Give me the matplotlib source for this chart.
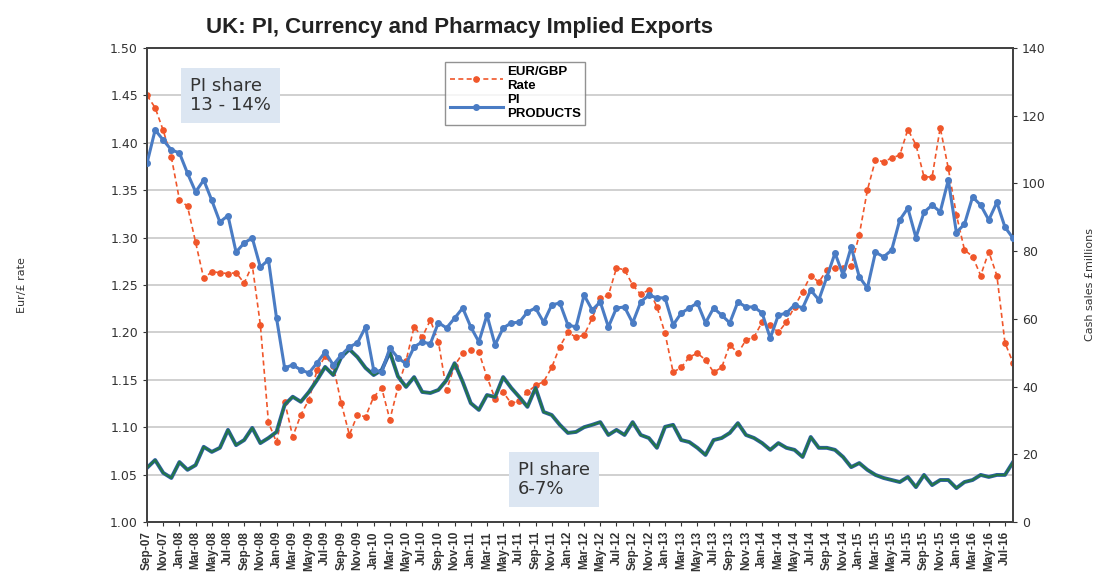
import pandas as pd
import matplotlib.pyplot as plt
import numpy as np

# months Sep-07 .. Aug-16
months = pd.date_range('2007-09-01', '2016-08-01', freq='MS')
month_labels = [d.strftime('%b-%y') for d in months]

# EUR/GBP rate (left axis)
eur_gbp = [1.450, 1.437, 1.413, 1.385, 1.340, 1.333, 1.295, 1.257, 1.264, 1.263,
           1.262, 1.263, 1.252, 1.271, 1.208, 1.105, 1.084, 1.127, 1.090, 1.113,
           1.129, 1.160, 1.175, 1.165, 1.125, 1.092, 1.113, 1.111, 1.132, 1.141,
           1.108, 1.142, 1.170, 1.206, 1.195, 1.213, 1.190, 1.139, 1.165, 1.178,
           1.181, 1.179, 1.153, 1.130, 1.137, 1.125, 1.128, 1.137, 1.144, 1.148,
           1.163, 1.185, 1.200, 1.195, 1.197, 1.215, 1.236, 1.239, 1.268, 1.266,
           1.250, 1.240, 1.245, 1.227, 1.199, 1.158, 1.163, 1.174, 1.178, 1.171,
           1.158, 1.163, 1.187, 1.178, 1.192, 1.195, 1.211, 1.208, 1.200, 1.211,
           1.227, 1.243, 1.260, 1.253, 1.266, 1.268, 1.268, 1.270, 1.303, 1.350,
           1.382, 1.380, 1.384, 1.387, 1.414, 1.398, 1.364, 1.364, 1.416, 1.373,
           1.324, 1.287, 1.280, 1.260, 1.285, 1.260, 1.189, 1.168]

# PI products, cash sales £m (right axis)
pi_products = [106.0, 115.8, 112.8, 109.9, 109.0, 103.0, 97.5, 101.0, 95.0, 88.6,
               90.5, 79.7, 82.4, 83.9, 75.3, 77.4, 60.2, 45.5, 46.4, 44.9,
               44.0, 47.0, 50.2, 46.4, 49.3, 51.7, 52.9, 57.6, 44.9, 44.3,
               51.4, 48.5, 46.7, 51.7, 53.2, 52.6, 58.9, 57.3, 60.2, 63.2,
               57.6, 53.2, 61.1, 52.3, 57.3, 58.8, 59.0, 62.0, 63.2, 59.0,
               64.1, 64.7, 58.2, 57.6, 67.0, 62.6, 65.0, 57.6, 63.2, 63.5,
               58.8, 65.0, 67.0, 66.2, 66.2, 58.2, 61.7, 63.2, 64.7, 58.8,
               63.2, 61.1, 58.8, 65.0, 63.5, 63.5, 61.7, 54.3, 61.1, 61.7,
               64.1, 63.2, 68.5, 65.6, 72.4, 79.4, 73.0, 81.2, 72.4, 69.1,
               79.7, 78.3, 80.3, 89.2, 92.7, 84.0, 91.5, 93.6, 91.6, 101.0,
               85.5, 88.0, 96.0, 93.6, 89.2, 94.4, 87.1, 83.8]

# pharmacy implied exports £m (right axis, no legend entry)
pharmacy = [16.0, 18.3, 14.5, 13.0, 17.7, 15.4, 16.8, 22.2, 20.7, 21.9,
            27.2, 22.7, 24.2, 27.8, 23.3, 24.8, 26.6, 34.6, 37.0, 35.5,
            38.4, 41.9, 45.8, 43.4, 48.7, 51.0, 48.7, 45.5, 43.4, 44.9,
            50.2, 43.0, 39.9, 42.8, 38.4, 38.1, 39.0, 41.9, 46.9, 41.4,
            35.1, 33.1, 37.5, 36.9, 42.8, 39.6, 36.9, 34.0, 39.6, 32.5,
            31.6, 28.7, 26.3, 26.6, 28.0, 28.7, 29.5, 25.7, 27.2, 25.7,
            29.5, 25.7, 24.8, 21.9, 28.1, 28.7, 24.2, 23.6, 21.9, 19.8,
            24.2, 24.8, 26.3, 29.2, 25.7, 24.8, 23.3, 21.3, 23.3, 21.9,
            21.3, 19.2, 25.1, 21.9, 21.9, 21.3, 19.2, 16.2, 17.4, 15.4,
            13.9, 13.0, 12.4, 11.8, 13.3, 10.3, 13.9, 10.9, 12.4, 12.4,
            10.0, 11.8, 12.4, 13.9, 13.3, 13.9, 13.9, 17.7]

x = np.arange(len(months))

fig = plt.figure(figsize=(10.99, 5.84), dpi=100)
ax = fig.add_axes([0.1338, 0.1062, 0.788, 0.8116])
ax2 = ax.twinx()

# gridlines from the left axis
ax.set_ylim(1.00, 1.50)
ax.set_yticks(np.arange(1.00, 1.501, 0.05))
ax.set_yticklabels(['%.2f' % v for v in np.arange(1.00, 1.501, 0.05)])
ax.grid(axis='y', color='#c8c8c8', linewidth=1.2)
ax.set_axisbelow(True)

red, = ax.plot(x, eur_gbp, color='#F0562A', linestyle=(0, (3, 2)), linewidth=1.2,
               marker='o', markersize=3.8, label='EUR/GBP\nRate', zorder=3)

ax2.set_ylim(0, 140)
ax2.set_yticks(range(0, 141, 20))
ax2.plot(x, pharmacy, color='#2F5DA8', linewidth=2.8, zorder=2)
ax2.plot(x, pharmacy, color='#22754A', linewidth=1.6, zorder=2)
blue, = ax2.plot(x, pi_products, color='#4A7CC4', linewidth=2.2, marker='o',
                 markersize=4, label='PI\nPRODUCTS', zorder=3)

ax.set_xlim(0, len(months) - 1)
ax.set_xticks(x[::2])
ax.set_xticklabels(month_labels[::2], rotation=90, fontsize=8.5,
                   fontfamily='Liberation Sans', fontweight='bold', color='#333333')

for a in (ax, ax2):
    for s in a.spines.values():
        s.set_color('#444444')
        s.set_linewidth(1.4)
ax.tick_params(axis='y', labelsize=9, colors='#333333', length=3)
ax2.tick_params(axis='y', labelsize=9, colors='#333333', length=3)
ax.tick_params(axis='x', length=3, colors='#333333')

ax.set_ylabel('Eur/£ rate', fontsize=8, color='#333333', labelpad=60)
ax2.set_ylabel('Cash sales £millions', fontsize=8, color='#333333', labelpad=28)

fig.text(0.418, 0.953, 'UK: PI, Currency and Pharmacy Implied Exports', ha='center',
         va='center', fontsize=16, fontweight='bold', fontfamily='Liberation Sans',
         color='#222222')

box = dict(boxstyle='square,pad=0.5', facecolor='#DCE6F2', edgecolor='none')
ax.text(0.05, 0.9, 'PI share\n13 - 14%', transform=ax.transAxes, fontsize=13,
        va='center', ha='left', color='#333333', bbox=box, linespacing=1.05)
ax.text(0.428, 0.09, 'PI share\n6-7%', transform=ax.transAxes, fontsize=13,
        va='center', ha='left', color='#333333', bbox=box, linespacing=1.05)

leg = ax.legend(handles=[red, blue], loc='upper left', bbox_to_anchor=(0.337, 0.985),
                fontsize=9.5, frameon=True, fancybox=False, handlelength=4,
                borderpad=0.35, labelspacing=0.15, handletextpad=0.3)
leg.get_frame().set_edgecolor('#777777')
for t in leg.get_texts():
    t.set_fontfamily('Liberation Sans')
    t.set_fontweight('bold')

plt.savefig('out.png', dpi=100)
